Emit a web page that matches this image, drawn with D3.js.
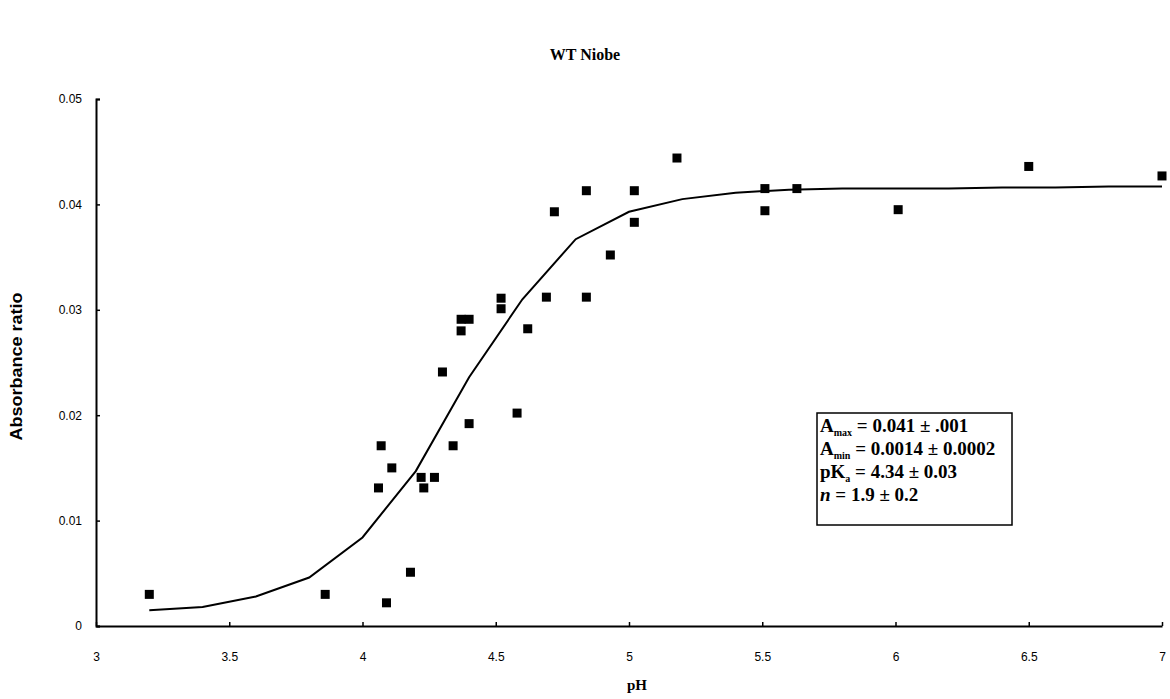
<!DOCTYPE html>
<html>
<head>
<meta charset="utf-8">
<script src="https://cdn.jsdelivr.net/npm/d3@7"></script>
<style>
  body { margin:0; background:#fff; }
  .tick text { font-family: "Liberation Sans", Arial, sans-serif; font-size:12px; fill:#000; }
  .ttl { font-family: "Liberation Serif", "Times New Roman", serif; font-weight:bold; font-size:16px; }
  .leg { font-family: "Liberation Serif", "Times New Roman", serif; font-weight:bold; font-size:19px; }
</style>
</head>
<body>
<div id="chart"></div>
<script>
// measured points (pH, absorbance ratio)
const phVals = [3.20, 3.86, 4.09, 4.07, 4.11, 4.06, 4.18, 4.22, 4.27, 4.23, 4.34, 4.30, 4.37, 4.37, 4.40, 4.40,
                4.52, 4.52, 4.58, 4.62, 4.69, 4.72, 4.84, 4.84, 4.93, 5.02, 5.02, 5.18, 5.51, 5.51, 5.63, 6.01, 6.50, 7.00];
const absVals = [0.0030, 0.0030, 0.0022, 0.0171, 0.0150, 0.0131, 0.0051, 0.0141, 0.0141, 0.0131, 0.0171, 0.0241, 0.0280, 0.0291, 0.0291, 0.0192,
                 0.0311, 0.0301, 0.0202, 0.0282, 0.0312, 0.0393, 0.0312, 0.0413, 0.0352, 0.0383, 0.0413, 0.0444, 0.0415, 0.0394, 0.0415, 0.0395, 0.0436, 0.0427];

// fitted curve
const fitPh  = [3.2, 3.4, 3.6, 3.8, 4.0, 4.2, 4.4, 4.6, 4.8, 5.0, 5.2, 5.4, 5.6, 5.8, 6.0, 6.2, 6.4, 6.6, 6.8, 7.0];
const fitAbs = [0.0015, 0.0018, 0.0028, 0.0046, 0.0084, 0.0147, 0.0236, 0.0310, 0.0367, 0.0393, 0.0405, 0.0411, 0.0414, 0.0415, 0.0415, 0.0415, 0.0416, 0.0416, 0.0417, 0.0417];

const xTicks = [3, 3.5, 4, 4.5, 5, 5.5, 6, 6.5, 7];
const yTicks = [0, 0.01, 0.02, 0.03, 0.04, 0.05];

// "_" marks the start of a subscript, "*" an italic symbol
const fitLines = ["A_max = 0.041 ± .001", "A_min = 0.0014 ± 0.0002", "pK_a = 4.34 ± 0.03", "*n = 1.9 ± 0.2"];

const W = 1170, H = 699;
const m = { top:99, right:8, bottom:73, left:96 };
const iw = W - m.left - m.right, ih = H - m.top - m.bottom;

const svg = d3.select("#chart").append("svg").attr("width", W).attr("height", H);
const g = svg.append("g").attr("transform", `translate(${m.left},${m.top})`);

const x = d3.scaleLinear().domain([3, 7]).range([0, iw]);
const y = d3.scaleLinear().domain([0, 0.05]).range([ih, 0]);

// axes, ticks point inward like the original
const gx = g.append("g").attr("transform", `translate(0,${ih})`)
  .call(d3.axisBottom(x).tickValues(xTicks).tickFormat(d => d).tickSizeInner(-4).tickSizeOuter(0).tickPadding(26));
const gy = g.append("g")
  .call(d3.axisLeft(y).tickValues(yTicks).tickFormat(d => d).tickSizeInner(-4).tickSizeOuter(-4).tickPadding(14));
[gx, gy].forEach(a => {
  a.select(".domain").attr("stroke", "#000").attr("stroke-width", 2);
  a.selectAll(".tick line").attr("stroke", "#000").attr("stroke-width", 1.5);
});

// fitted curve
const fit = fitPh.map((p, i) => [p, fitAbs[i]]);
g.append("path").datum(fit)
  .attr("fill", "none").attr("stroke", "#000").attr("stroke-width", 2)
  .attr("d", d3.line().x(d => x(d[0])).y(d => y(d[1])));

// data squares
const pts = phVals.map((p, i) => ({ ph: p, a: absVals[i] }));
const s = 9;
g.selectAll("rect.pt").data(pts).enter().append("rect")
  .attr("class", "pt")
  .attr("x", d => x(d.ph) - s/2).attr("y", d => y(d.a) - s/2)
  .attr("width", s).attr("height", s).attr("fill", "#000");

// titles
svg.append("text").attr("class", "ttl").attr("x", 585).attr("y", 60).attr("text-anchor", "middle").text("WT Niobe");
svg.append("text").attr("class", "ttl").style("font-size", "15px")
  .attr("x", 637).attr("y", 690).attr("text-anchor", "middle").text("pH");
svg.append("text")
  .attr("transform", `translate(22,${m.top + ih/2 + 4}) rotate(-90)`)
  .attr("text-anchor", "middle")
  .attr("textLength", 148).attr("lengthAdjust", "spacingAndGlyphs")
  .style("font-family", "'Liberation Sans', Arial, sans-serif")
  .style("font-weight", "bold").style("font-size", "16px")
  .text("Absorbance ratio");

// fit parameter box
const box = svg.append("g").attr("transform", "translate(817,413)");
box.append("rect").attr("width", 195).attr("height", 112)
  .attr("fill", "#fff").attr("stroke", "#000").attr("stroke-width", 1.5);
fitLines.forEach((line, i) => {
  const t = box.append("text").attr("class", "leg").attr("x", 3).attr("y", 19 + i * 23);
  const sub = line.match(/^([^_ ]+)_(\S+)(.*)$/);
  if (sub) {
    t.append("tspan").text(sub[1]);
    t.append("tspan").attr("dy", 4).style("font-size", "10px").text(sub[2]);
    t.append("tspan").attr("dy", -4).text(sub[3]);
  } else {
    const parts = line.slice(1).split(" ");
    t.append("tspan").style("font-style", "italic").text(parts[0]);
    t.append("tspan").text(" " + parts.slice(1).join(" "));
  }
});
</script>
</body>
</html>
